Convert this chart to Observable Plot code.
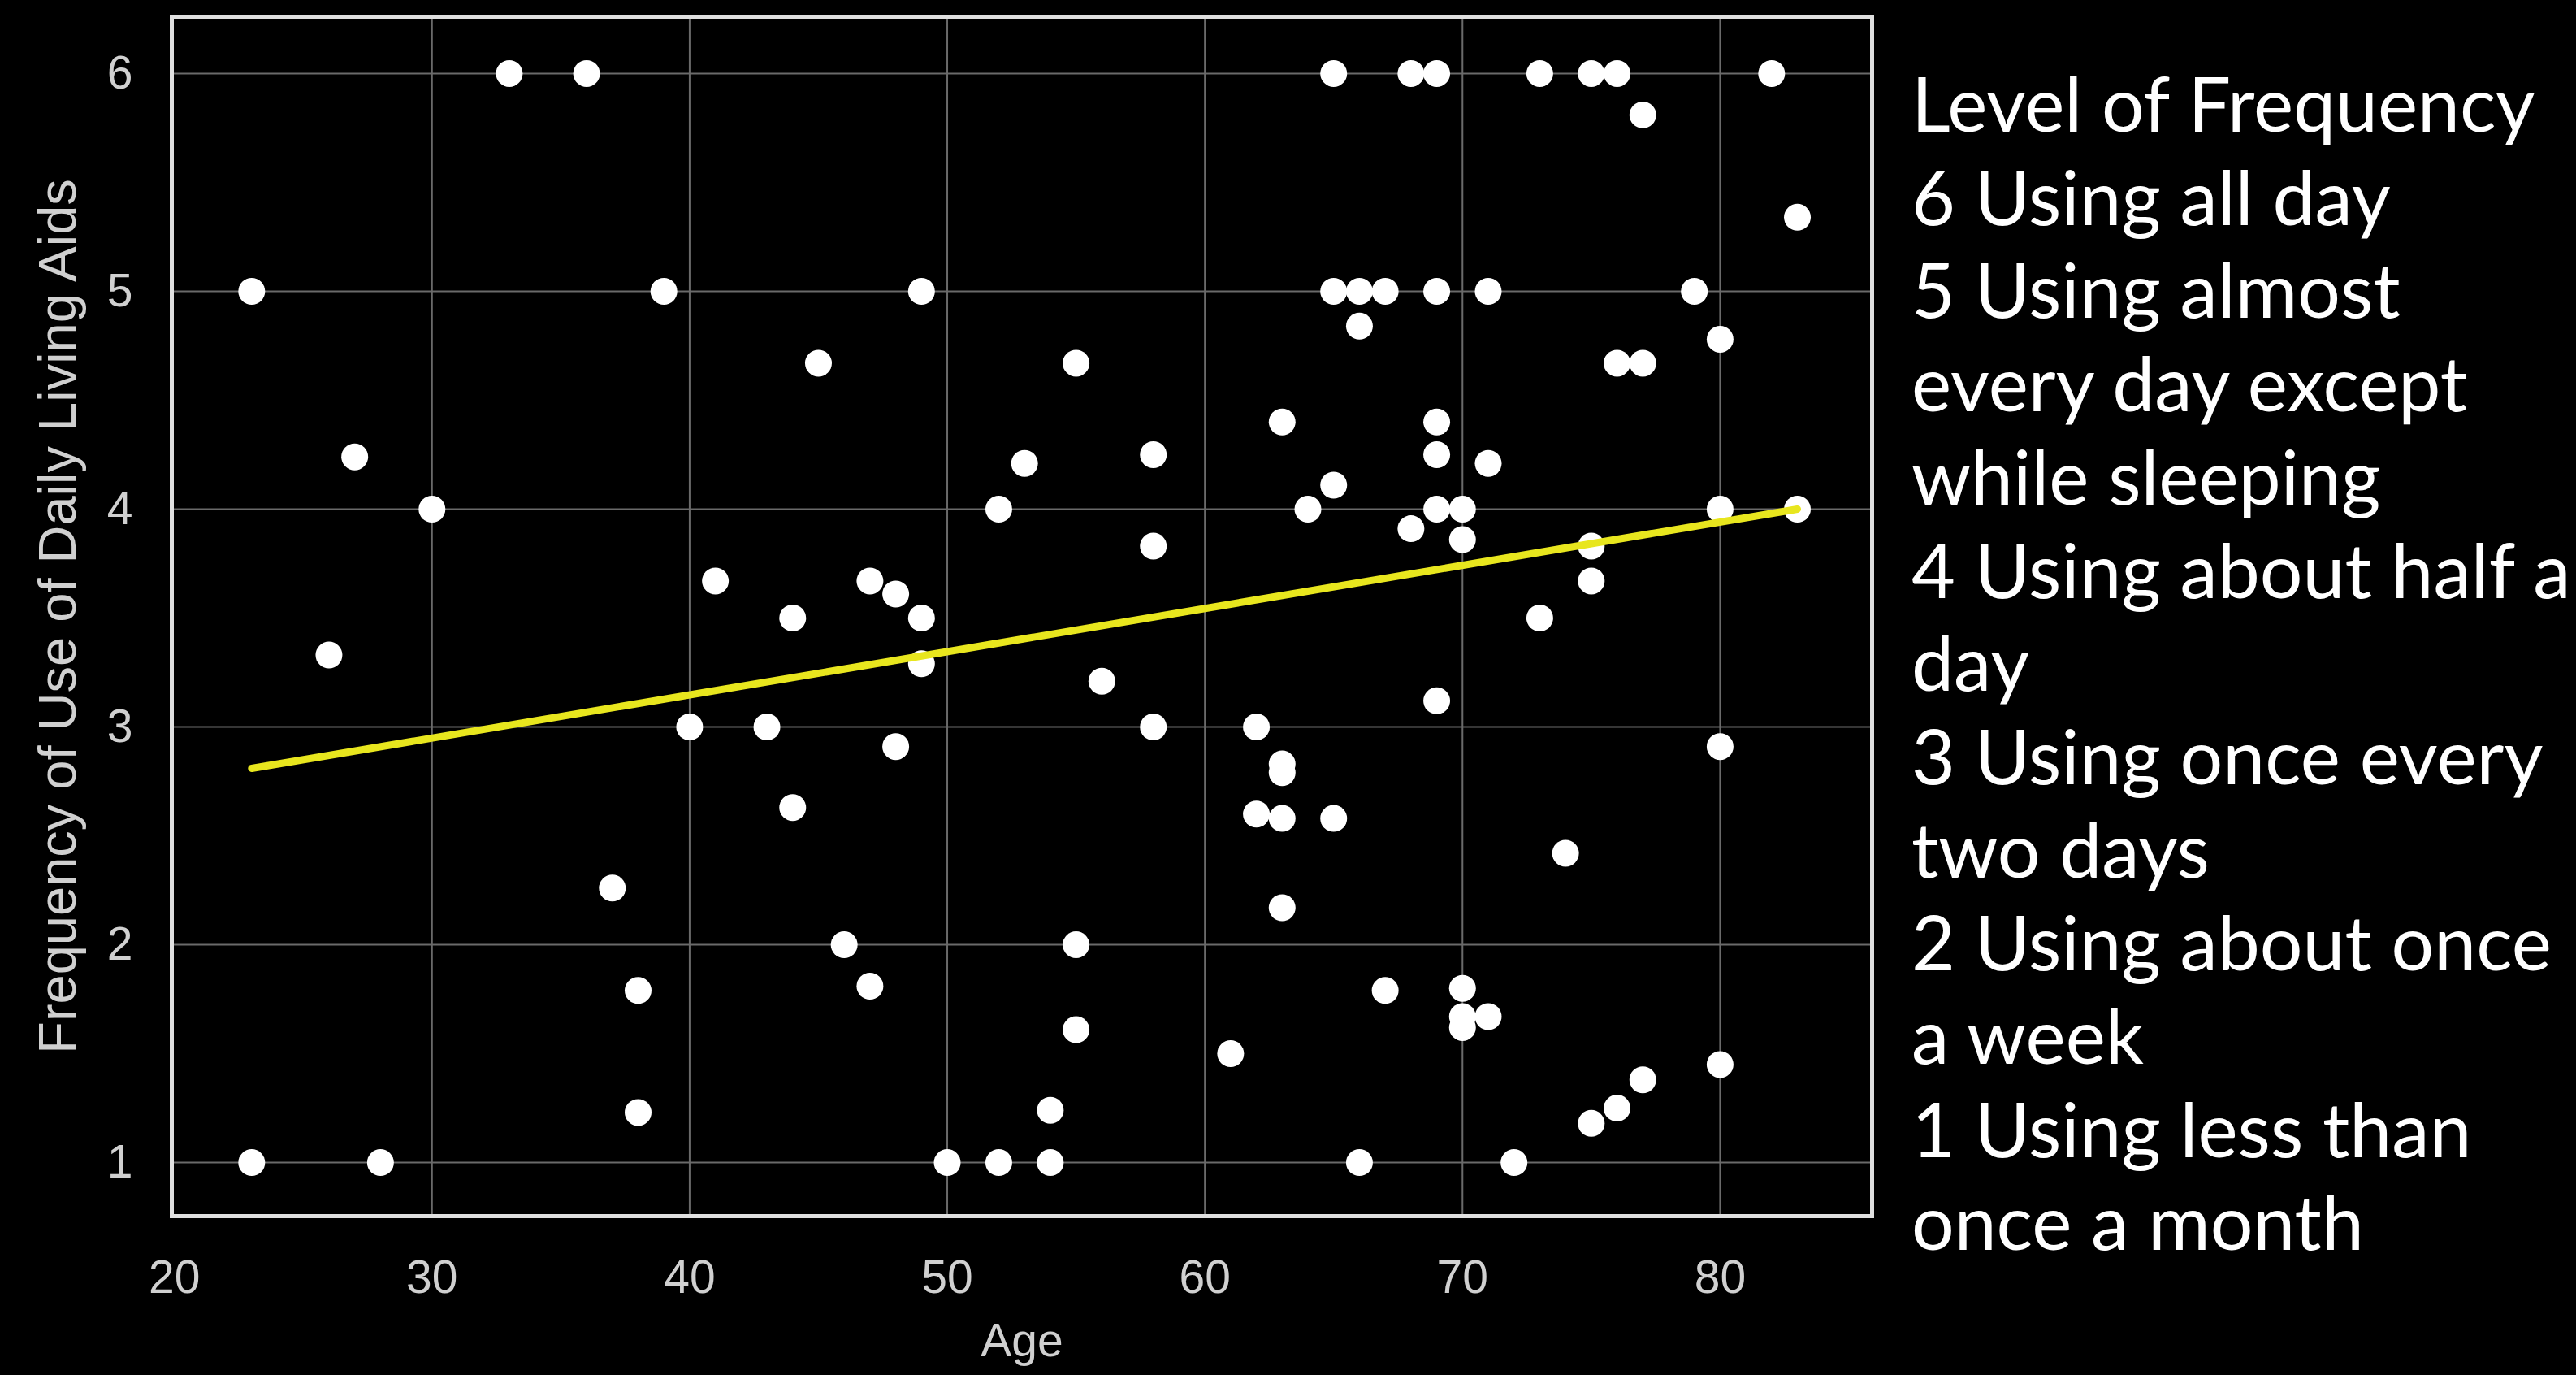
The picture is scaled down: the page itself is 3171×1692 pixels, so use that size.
<!DOCTYPE html>
<html>
<head>
<meta charset="utf-8">
<script src="https://cdn.jsdelivr.net/npm/d3@7"></script>
<script src="https://cdn.jsdelivr.net/npm/@observablehq/plot@0.6"></script>
<style>
  html, body { margin: 0; padding: 0; background: #000; }
  #wrap { position: relative; width: 3171px; height: 1692px; background: #000; overflow: hidden; }
  #chart { position: absolute; left: 0; top: 0; }
  #legend { position: absolute; left: 2353px; top: 69px; color: #fff;
            font-family: Lato, "Noto Sans", sans-serif; font-size: 93px; line-height: 114.7px; white-space: pre; }
</style>
</head>
<body>
<div id="wrap">
  <div id="chart"></div>
  <div id="legend"></div>
</div>
<script>
// Age of each respondent and frequency of use (1–6)
const ages = [23, 23, 26, 27, 28, 30, 33, 36, 37, 38, 38, 39, 40, 41, 43, 44, 44, 45, 46, 47, 47, 48, 48, 49, 49, 49,
  50, 52, 52, 53, 54, 54, 55, 55, 55, 56, 58, 58, 58, 61, 62, 62, 63, 63, 63, 63, 63, 64, 65, 65, 65, 65,
  66, 66, 66, 67, 67, 68, 68, 69, 69, 69, 69, 69, 69, 70, 70, 70, 70, 70, 71, 71, 71, 72, 73, 73, 74,
  75, 75, 75, 75, 76, 76, 76, 77, 77, 77, 79, 80, 80, 80, 80, 82, 83, 83];
const freqs = [5, 1, 3.33, 4.24, 1, 4, 6, 6, 2.26, 1.79, 1.23, 5, 3, 3.67, 3, 3.5, 2.63, 4.67, 2, 3.67, 1.81, 3.61, 2.91, 5, 3.5, 3.29,
  1, 4, 1, 4.21, 1.24, 1, 4.67, 2, 1.61, 3.21, 4.25, 3.83, 3, 1.5, 3, 2.6, 4.4, 2.83, 2.79, 2.58, 2.17, 4, 6, 5, 4.11, 2.58,
  5, 4.84, 1, 5, 1.79, 6, 3.91, 6, 5, 4.4, 4.25, 4, 3.12, 4, 3.86, 1.8, 1.67, 1.62, 5, 4.21, 1.67, 1, 6, 3.5, 2.42,
  6, 3.83, 3.67, 1.18, 6, 4.67, 1.25, 5.81, 4.67, 1.38, 5, 4.78, 4, 2.91, 1.45, 6, 5.34, 4];

// Trend line end points
const trendAges = [23, 83];
const trendFreqs = [2.81, 4.0];

const xTicks = [20, 30, 40, 50, 60, 70, 80];
const yTicks = [1, 2, 3, 4, 5, 6];

const xLabel = "Age";
const yLabel = "Frequency of Use of Daily Living Aids";

const legendLines = [
  "Level of Frequency",
  "6 Using all day",
  "5 Using almost",
  "every day except",
  "while sleeping",
  "4 Using about half a",
  "day",
  "3 Using once every",
  "two days",
  "2 Using about once",
  "a week",
  "1 Using less than",
  "once a month"
];

const points = ages.map((a, i) => ({age: a, freq: freqs[i]}));
const trend = trendAges.map((a, i) => ({age: a, freq: trendFreqs[i]}));

const chart = Plot.plot({
  width: 2330,
  height: 1692,
  marginLeft: 211,
  marginRight: 26,
  marginTop: 20,
  marginBottom: 196,
  style: {background: "#000", color: "#d0d0d0", fontFamily: "'Liberation Sans', Arial, sans-serif", fontSize: "57px"},
  x: {domain: [19.9, 85.9]},
  y: {domain: [0.754, 6.261]},
  marks: [
    Plot.gridX([30, 40, 50, 60, 70, 80], {stroke: "#6a6a6a", strokeOpacity: 1, strokeWidth: 2}),
    Plot.gridY(yTicks, {stroke: "#6a6a6a", strokeOpacity: 1, strokeWidth: 2}),
    Plot.axisX(xTicks, {tickSize: 0, tickPadding: 54, fontSize: 57, tickFormat: "d", label: xLabel, labelAnchor: "center", labelArrow: "none", labelOffset: 172}),
    Plot.axisY(yTicks, {tickSize: 0, tickPadding: 48, fontSize: 57, tickFormat: "d", label: null}),
    Plot.text([yLabel], {frameAnchor: "left", dx: -165, rotate: -90, lineAnchor: "top", textAnchor: "middle", fontSize: 65, fill: "#d0d0d0"}),
    Plot.frame({stroke: "#e0e0e0", strokeWidth: 5}),
    Plot.dot(points, {x: "age", y: "freq", r: 16.5, fill: "#fff", stroke: "none"}),
    Plot.line(trend, {x: "age", y: "freq", stroke: "#e8e61e", strokeWidth: 9})
  ]
});
document.getElementById("chart").appendChild(chart);
document.getElementById("legend").textContent = legendLines.join("\n");
</script>
</body>
</html>
